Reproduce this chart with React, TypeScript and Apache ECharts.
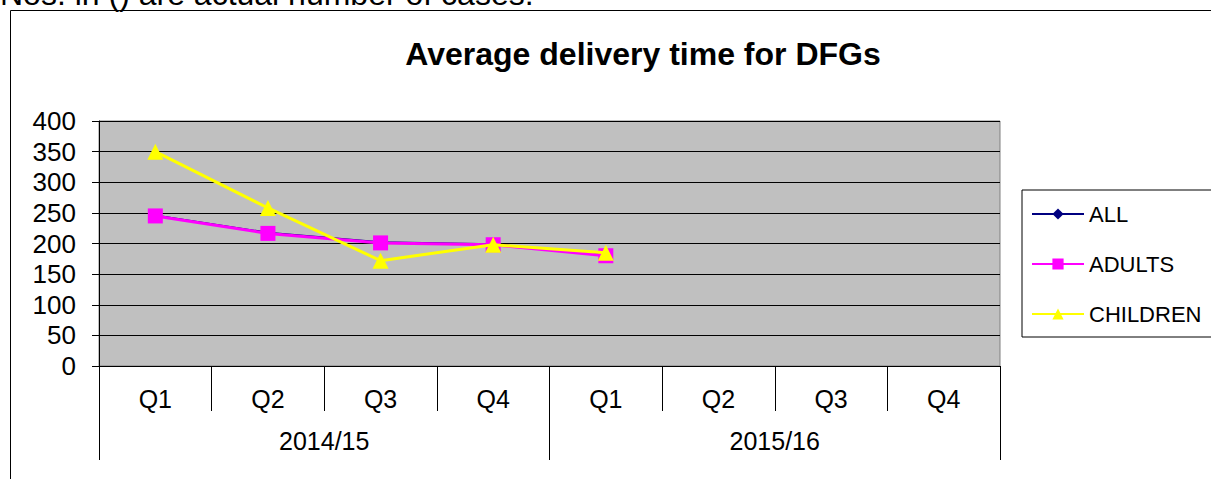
import React, { useEffect, useRef } from "react";
import * as echarts from "echarts";

const quarters = ["Q1", "Q2", "Q3", "Q4", "Q1", "Q2", "Q3", "Q4"];
const years = ["2014/15", "2015/16"];
const allValues = [245.8, 217.5, 202, 198.6, 181];
const adultValues = [245, 216.5, 201, 198, 180];
const childValues = [350, 258, 172, 198, 185];
const yTicks = { min: 0, max: 400, interval: 50 };

const FONT = "'Liberation Sans', Arial, sans-serif";

export default function App() {
  const ref = useRef<HTMLDivElement>(null);
  useEffect(() => {
    if (!ref.current) return;
    const chart = echarts.init(ref.current, undefined, { renderer: "svg" });
    chart.setOption({
      animation: false,
      backgroundColor: "#ffffff",
      textStyle: { fontFamily: FONT, color: "#000" },
      title: {
        text: "Average delivery time for DFGs",
        left: 638,
        top: 33,
        textAlign: "center",
        textStyle: { fontFamily: FONT, fontSize: 32, fontWeight: "bold", color: "#000" },
      },
      graphic: [
        {
          type: "rect",
          shape: { x: 10.5, y: 10.5, width: 1400, height: 800 },
          style: { fill: "none", stroke: "#000", lineWidth: 1 },
          z: -10,
        },
        {
          type: "text",
          x: 0,
          y: -6,
          style: {
            text: "Nos. in () are actual number of cases.",
            fontFamily: FONT,
            fontSize: 32,
            fill: "#000",
            verticalAlign: "middle",
            align: "left",
          },
        },
      ],
      legend: {
        orient: "vertical",
        left: 1022,
        top: 190,
        padding: [13, 60, 12, 9],
        itemWidth: 52,
        itemHeight: 14,
        itemGap: 28,
        borderColor: "#000",
        borderWidth: 1,
        backgroundColor: "#fff",
        textStyle: { fontFamily: FONT, fontSize: 22, color: "#000", lineHeight: 22 },
        data: ["ALL", "ADULTS", "CHILDREN"],
      },
      grid: {
        left: 99,
        right: 211,
        top: 121,
        bottom: 113,
        show: true,
        backgroundColor: "#C0C0C0",
        borderColor: "#808080",
        borderWidth: 1,
      },
      xAxis: [
        {
          type: "category",
          data: quarters,
          position: "bottom",
          boundaryGap: true,
          axisLine: { show: true, lineStyle: { color: "#000", width: 1 } },
          axisTick: { show: true, interval: 0, length: 45, lineStyle: { color: "#000" } },
          axisLabel: { interval: 0, margin: 20, fontSize: 25, color: "#000", fontFamily: FONT },
          splitLine: { show: false },
        },
        {
          type: "category",
          data: years,
          position: "bottom",
          offset: 0,
          boundaryGap: true,
          axisLine: { show: false },
          axisTick: { show: true, interval: 0, length: 94, lineStyle: { color: "#000" } },
          axisLabel: { interval: 0, margin: 62, fontSize: 25, color: "#000", fontFamily: FONT },
          splitLine: { show: false },
        },
      ],
      yAxis: {
        type: "value",
        min: yTicks.min,
        max: yTicks.max,
        interval: yTicks.interval,
        axisLine: { show: true, lineStyle: { color: "#000", width: 1 } },
        axisTick: { show: true, length: 7, lineStyle: { color: "#000" } },
        axisLabel: { margin: 23, fontSize: 26, color: "#000", fontFamily: FONT },
        splitLine: { show: true, lineStyle: { color: "#000", width: 1 } },
      },
      series: [
        {
          name: "ALL",
          type: "line",
          xAxisIndex: 0,
          data: allValues,
          symbol: "diamond",
          symbolSize: 11,
          lineStyle: { color: "#000080", width: 2 },
          itemStyle: { color: "#000080" },
          z: 2,
        },
        {
          name: "ADULTS",
          type: "line",
          xAxisIndex: 0,
          data: adultValues,
          symbol: "rect",
          symbolSize: 15,
          lineStyle: { color: "#FF00FF", width: 3 },
          itemStyle: { color: "#FF00FF" },
          z: 3,
        },
        {
          name: "CHILDREN",
          type: "line",
          xAxisIndex: 0,
          data: childValues,
          symbol: "triangle",
          symbolSize: 16,
          lineStyle: { color: "#FFFF00", width: 3 },
          itemStyle: { color: "#FFFF00" },
          z: 4,
        },
      ],
    });
    return () => chart.dispose();
  }, []);
  return (
    <div
      ref={ref}
      style={{ position: "absolute", left: 0, top: 0, width: 1211, height: 479 }}
    />
  );
}
